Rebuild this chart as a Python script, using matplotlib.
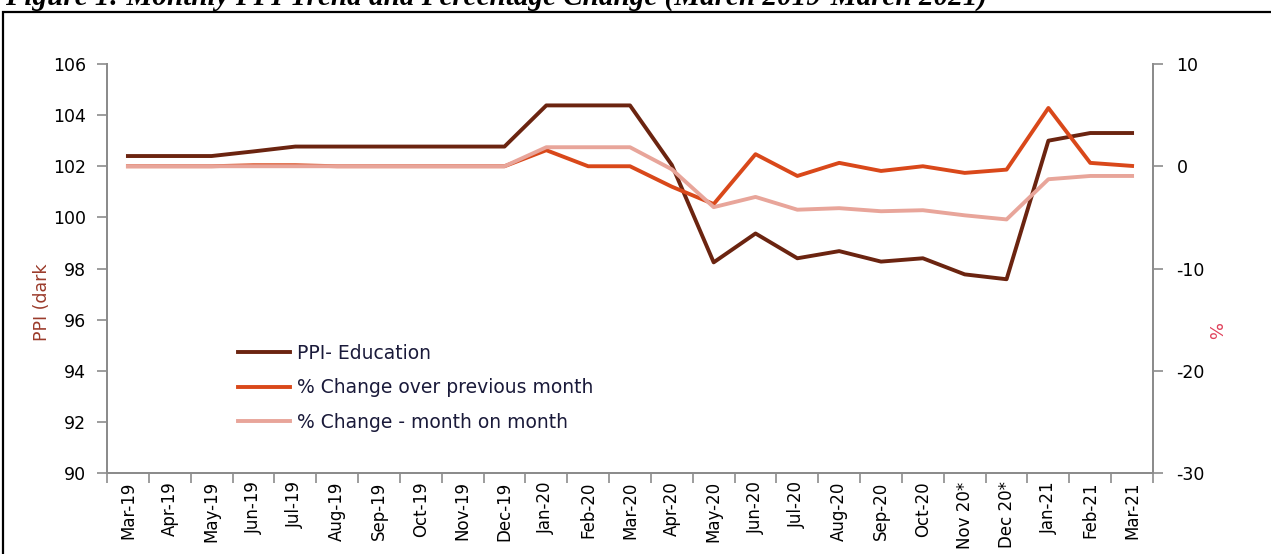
import matplotlib.pyplot as plt
from matplotlib.patches import Rectangle

months = ["Mar-19", "Apr-19", "May-19", "Jun-19", "Jul-19", "Aug-19", "Sep-19",
          "Oct-19", "Nov-19", "Dec-19", "Jan-20", "Feb-20", "Mar-20", "Apr-20",
          "May-20", "Jun-20", "Jul-20", "Aug-20", "Sep-20", "Oct-20", "Nov 20*",
          "Dec 20*", "Jan-21", "Feb-21", "Mar-21"]

ppi_education = [102.4, 102.4, 102.4, 102.58, 102.77, 102.77, 102.77, 102.77,
                 102.77, 102.77, 104.38, 104.38, 104.38, 102.05, 98.24, 99.37,
                 98.4, 98.68, 98.27, 98.4, 97.77, 97.58, 103.0, 103.3, 103.3]

pct_prev_month = [0.0, 0.0, 0.0, 0.1, 0.1, 0.0, 0.0, 0.0, 0.0, 0.0, 1.57, 0.0,
                  0.0, -2.0, -3.7, 1.18, -0.95, 0.33, -0.46, 0.0, -0.65, -0.33,
                  5.7, 0.33, 0.03]

pct_month_on_month = [0.0, 0.0, 0.0, 0.0, 0.0, 0.0, 0.0, 0.0, 0.0, 0.0, 1.86,
                      1.86, 1.86, -0.3, -4.0, -3.0, -4.25, -4.1, -4.4, -4.3,
                      -4.8, -5.2, -1.27, -0.95, -0.95]

ppi_ticks = [90, 92, 94, 96, 98, 100, 102, 104, 106]
pct_ticks = [-30, -20, -10, 0, 10]

c_ppi = "#6b2410"
c_prev = "#d9481a"
c_mom = "#e8a59a"
c_spine = "#8c8c8c"

plt.rcParams["font.family"] = ["DejaVu Sans"]
plt.rcParams["axes.unicode_minus"] = False

fig = plt.figure(figsize=(12.71, 5.54), dpi=100)
ax = fig.add_axes([107 / 1271, 1 - 473 / 554, (1153 - 107) / 1271, (473 - 64) / 554])
ax2 = ax.twinx()

x = list(range(len(months)))
l1, = ax.plot(x, ppi_education, color=c_ppi, lw=2.8, label="PPI- Education")
l2, = ax2.plot(x, pct_prev_month, color=c_prev, lw=2.8,
               label="% Change over previous month")
l3, = ax2.plot(x, pct_month_on_month, color=c_mom, lw=2.8,
               label="% Change - month on month")

ax.set_xlim(-0.5, len(months) - 0.5)
ax.set_ylim(90, 106)
ax.set_yticks(ppi_ticks)
ax2.set_ylim(-30, 10)
ax2.set_yticks(pct_ticks)

# boundaries get the tick marks, centres get the labels
ax.set_xticks([i - 0.5 for i in range(len(months) + 1)])
ax.set_xticklabels([])
ax.set_xticks(x, minor=True)
ax.set_xticklabels(months, minor=True, rotation=90, fontsize=12)
ax.tick_params(axis="x", which="minor", length=0, pad=6)
ax.tick_params(axis="x", which="major", length=7, color=c_spine, width=1.2)
ax.tick_params(axis="y", length=7, color=c_spine, width=1.2, labelsize=12.5, pad=8)
ax2.tick_params(axis="y", length=7, color=c_spine, width=1.2, labelsize=12.5, pad=10)

for a in (ax, ax2):
    a.spines["top"].set_visible(False)
    for s in ("left", "right", "bottom"):
        a.spines[s].set_color(c_spine)
        a.spines[s].set_linewidth(1.4)

ax.set_ylabel("PPI (dark", color="#9b3b2b", fontsize=12.5, labelpad=0)
ax.yaxis.set_label_coords(-0.054, 0.418)
ax2.set_ylabel("%", color="#e0405a", fontsize=13, labelpad=0, rotation=-90)
ax2.yaxis.set_label_coords(1.066, 0.345)

leg = ax2.legend(handles=[l1, l2, l3], loc="center left",
                 bbox_to_anchor=(0.125, 0.208), frameon=False, fontsize=13.5,
                 handlelength=2.77, handletextpad=0.37, labelspacing=0.82,
                 borderaxespad=0, borderpad=0)
for t in leg.get_texts():
    t.set_color("#1a1a3a")

fig.patches.append(Rectangle((3 / 1271, -0.1), 1.2, 1.1 - 12 / 554,
                             transform=fig.transFigure, fill=False,
                             edgecolor="black", lw=1.6))

fig.text(5 / 1271, 1 - 5 / 554,
         "Figure 1: Monthly PPI Trend and Percentage Change (March 2019-March 2021)",
         family="Liberation Serif", fontweight="bold", fontstyle="italic",
         fontsize=21, va="baseline", ha="left")

fig.savefig("out.png", dpi=100)
